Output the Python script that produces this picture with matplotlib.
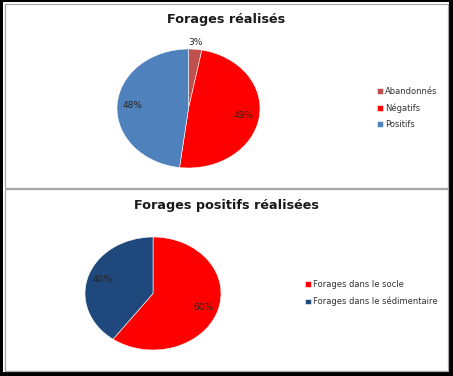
import numpy as np
import matplotlib
matplotlib.use("Agg")
import matplotlib.pyplot as plt
from matplotlib.patches import Rectangle

# data
labels1 = ["Abandonnés", "Négatifs", "Positifs"]
values1 = [3, 49, 48]
colors1 = ["#C0504D", "#FF0000", "#4F81BD"]

labels2 = ["Forages dans le socle", "Forages dans le sédimentaire"]
values2 = [60, 40]
colors2 = ["#FF0000", "#1F497D"]

W, H = 453, 376
fig = plt.figure(figsize=(W / 100, H / 100), dpi=100, facecolor="black")


def box(x0, y0, x1, y1):
    # pixel coords from top-left -> figure fraction
    return [x0 / W, 1 - y1 / H, (x1 - x0) / W, (y1 - y0) / H]


# white page and grey panel borders
fig.patches.append(Rectangle((3 / W, 1 - 372 / H), 446 / W, 370 / H,
                             transform=fig.transFigure, facecolor="white", edgecolor="none", zorder=-5))
for y0, y1 in [(4, 187.5), (188.5, 371)]:
    fig.patches.append(Rectangle((4.5 / W, 1 - y1 / H), 443.5 / W, (y1 - y0) / H,
                                 transform=fig.transFigure, facecolor="none",
                                 edgecolor="#A6A6A6", lw=0.9, zorder=-4))


def draw_pie(rect, values, colors, pctd, outer=None):
    ax = fig.add_axes(rect, zorder=3)
    ax.patch.set_visible(False)
    wedges, texts, autotexts = ax.pie(values, colors=colors, startangle=90, counterclock=False,
                                      autopct="%1.0f%%", pctdistance=pctd,
                                      wedgeprops=dict(edgecolor="white", linewidth=0.4),
                                      textprops=dict(fontsize=6.5, color="#262626"))
    ax.set_aspect("auto")
    ax.set_xlim(-1, 1)
    ax.set_ylim(-1, 1)
    if outer is not None:
        w = wedges[outer]
        th = np.deg2rad((w.theta1 + w.theta2) / 2)
        autotexts[outer].set_position((1.1 * np.cos(th), 1.12 * np.sin(th)))
    return ax, wedges


ax1, w1 = draw_pie(box(117, 49, 260, 168), values1, colors1, 0.78, outer=0)
ax2, w2 = draw_pie(box(85, 237, 221, 350), values2, colors2, 0.78)

fig.text(226 / W, 1 - 20 / H, "Forages réalisés", ha="center", va="center",
         fontsize=9.2, fontweight="bold", color="#1a1a1a")
fig.text(226 / W, 1 - 205 / H, "Forages positifs réalisées", ha="center", va="center",
         fontsize=9.2, fontweight="bold", color="#1a1a1a")

leg_kw = dict(frameon=False, fontsize=6, handlelength=0.7, handleheight=0.7,
              handletextpad=0.25, borderpad=0, borderaxespad=0, labelcolor="#333333")
fig.legend(w1, labels1, loc="center left", bbox_to_anchor=(377 / W, 1 - 108 / H),
           labelspacing=0.9, **leg_kw)
fig.legend(w2, labels2, loc="center left", bbox_to_anchor=(305 / W, 1 - 293 / H),
           labelspacing=1.0, **leg_kw)

fig.savefig("out.png", dpi=100, facecolor=fig.get_facecolor())
